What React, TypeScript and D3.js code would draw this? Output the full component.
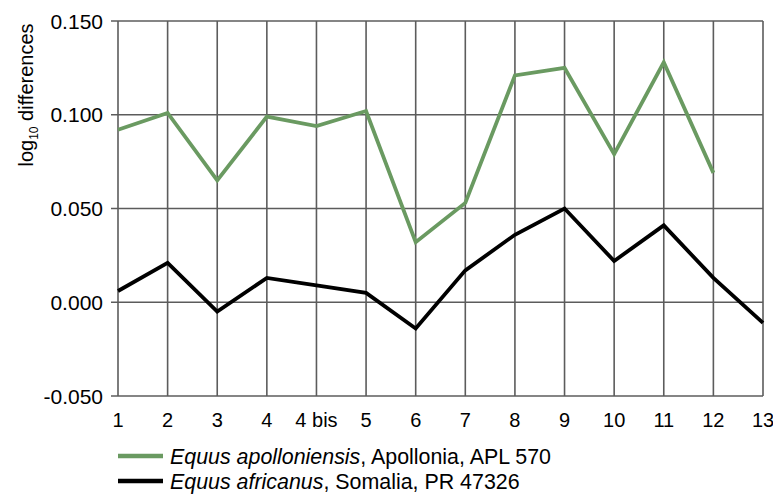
import { useEffect, useRef } from "react";
import * as d3 from "d3";

const categories = ["1", "2", "3", "4", "4 bis", "5", "6", "7", "8", "9", "10", "11", "12", "13"];
const apollonia = [0.092, 0.101, 0.065, 0.099, 0.094, 0.102, 0.032, 0.053, 0.121, 0.125, 0.079, 0.128, 0.069, null];
const somalia = [0.006, 0.021, -0.005, 0.013, 0.009, 0.005, -0.014, 0.017, 0.036, 0.050, 0.022, 0.041, 0.013, -0.011];
const yTicks = [-0.05, 0, 0.05, 0.1, 0.15];

const GREEN = "#6a9a61";
const FONT = "'Liberation Sans', Arial, sans-serif";

export default function App() {
  const svgRef = useRef<SVGSVGElement>(null);

  useEffect(() => {
    if (!svgRef.current) return;
    const svg = d3.select(svgRef.current);
    svg.selectAll("*").remove();

    const left = 118, right = 763, top = 21, bottom = 396;

    const x = d3.scalePoint<string>().domain(categories).range([left, right]);
    const y = d3.scaleLinear().domain([-0.05, 0.15]).range([bottom, top]);

    const grid = svg.append("g").attr("stroke", "#5c5c5c").attr("stroke-width", 1.6);
    grid
      .selectAll("line.h")
      .data(yTicks)
      .enter()
      .append("line")
      .attr("x1", left - 7)
      .attr("x2", right)
      .attr("y1", (d) => y(d))
      .attr("y2", (d) => y(d));
    grid
      .selectAll("line.v")
      .data(categories)
      .enter()
      .append("line")
      .attr("x1", (d) => x(d)!)
      .attr("x2", (d) => x(d)!)
      .attr("y1", top)
      .attr("y2", bottom);

    svg
      .append("g")
      .selectAll("text")
      .data(yTicks)
      .enter()
      .append("text")
      .attr("x", left - 15)
      .attr("y", (d) => y(d))
      .attr("dy", "0.36em")
      .attr("text-anchor", "end")
      .attr("font-family", FONT)
      .attr("font-size", 21)
      .text((d) => d3.format(".3f")(d).replace("−", "-"));

    svg
      .append("g")
      .selectAll("text")
      .data(categories)
      .enter()
      .append("text")
      .attr("x", (d) => x(d)!)
      .attr("y", 427)
      .attr("text-anchor", "middle")
      .attr("font-family", FONT)
      .attr("font-size", 20)
      .text((d) => d);

    const yLabel = svg
      .append("text")
      .attr("transform", `translate(33,95) rotate(-90)`)
      .attr("text-anchor", "middle")
      .attr("font-family", FONT)
      .attr("font-size", 20);
    yLabel.append("tspan").text("log");
    yLabel.append("tspan").attr("font-size", 12).attr("dy", 5).text("10");
    yLabel.append("tspan").attr("dy", -5).text(" differences");

    const line = d3
      .line<number | null>()
      .defined((d) => d !== null)
      .x((_, i) => x(categories[i])!)
      .y((d) => y(d as number));

    svg
      .append("path")
      .datum(apollonia)
      .attr("fill", "none")
      .attr("stroke", GREEN)
      .attr("stroke-width", 3.8)
      .attr("d", line);

    svg
      .append("path")
      .datum(somalia)
      .attr("fill", "none")
      .attr("stroke", "#000")
      .attr("stroke-width", 3.8)
      .attr("d", line);

    const legend = [
      { color: GREEN, italic: "Equus apolloniensis", rest: ", Apollonia, APL 570", y: 456 },
      { color: "#000", italic: "Equus africanus", rest: ", Somalia, PR 47326", y: 481 },
    ];
    legend.forEach((l) => {
      svg
        .append("line")
        .attr("x1", 118)
        .attr("x2", 163)
        .attr("y1", l.y)
        .attr("y2", l.y)
        .attr("stroke", l.color)
        .attr("stroke-width", 4.5);
      const t = svg
        .append("text")
        .attr("x", 170)
        .attr("y", l.y)
        .attr("dy", "0.36em")
        .attr("font-family", FONT)
        .attr("font-size", 21.4);
      t.append("tspan").attr("font-style", "italic").text(l.italic);
      t.append("tspan").text(l.rest);
    });
  }, []);

  return (
    <svg
      ref={svgRef}
      width={773}
      height={494}
      style={{ position: "absolute", left: 0, top: 0, background: "#fff" }}
    />
  );
}
